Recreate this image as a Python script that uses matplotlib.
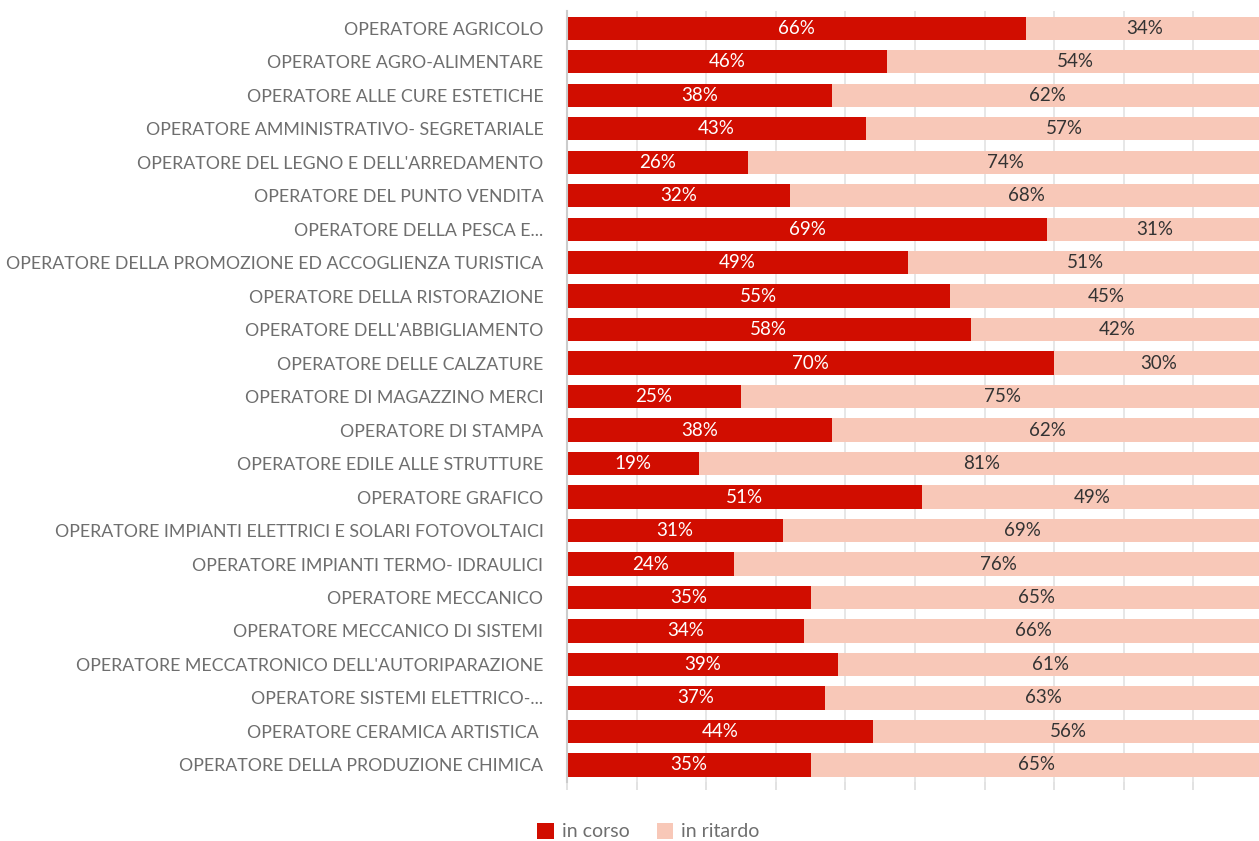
import matplotlib.pyplot as plt
import numpy as np

plt.rcParams['font.family'] = ['Lato', 'DejaVu Sans']

categorie = [
    "OPERATORE AGRICOLO",
    "OPERATORE AGRO-ALIMENTARE",
    "OPERATORE ALLE CURE ESTETICHE",
    "OPERATORE AMMINISTRATIVO- SEGRETARIALE",
    "OPERATORE DEL LEGNO E DELL'ARREDAMENTO",
    "OPERATORE DEL PUNTO VENDITA",
    "OPERATORE DELLA PESCA E...",
    "OPERATORE DELLA PROMOZIONE ED ACCOGLIENZA TURISTICA",
    "OPERATORE DELLA RISTORAZIONE",
    "OPERATORE DELL'ABBIGLIAMENTO",
    "OPERATORE DELLE CALZATURE",
    "OPERATORE DI MAGAZZINO MERCI",
    "OPERATORE DI STAMPA",
    "OPERATORE EDILE ALLE STRUTTURE",
    "OPERATORE GRAFICO",
    "OPERATORE IMPIANTI ELETTRICI E SOLARI FOTOVOLTAICI",
    "OPERATORE IMPIANTI TERMO- IDRAULICI",
    "OPERATORE MECCANICO",
    "OPERATORE MECCANICO DI SISTEMI",
    "OPERATORE MECCATRONICO DELL'AUTORIPARAZIONE",
    "OPERATORE SISTEMI ELETTRICO-...",
    "OPERATORE CERAMICA ARTISTICA ",
    "OPERATORE DELLA PRODUZIONE CHIMICA",
]
in_corso = [66, 46, 38, 43, 26, 32, 69, 49, 55, 58, 70, 25, 38, 19, 51, 31, 24, 35, 34, 39, 37, 44, 35]
in_ritardo = [34, 54, 62, 57, 74, 68, 31, 51, 45, 42, 30, 75, 62, 81, 49, 69, 76, 65, 66, 61, 63, 56, 65]

rosso = '#d10d00'
rosa = '#f8c8b8'

fig = plt.figure(figsize=(12.59, 8.41), dpi=100)
ax = fig.add_axes([0.4504, 0.0705, 0.5528, 0.916])

y = np.arange(len(categorie))
h = 0.69
ax.barh(y, in_corso, height=h, color=rosso, label='in corso', zorder=3)
ax.barh(y, in_ritardo, left=in_corso, height=h, color=rosa, label='in ritardo', zorder=3)

for i in range(len(categorie)):
    ax.text(in_corso[i] / 2, i, f'{in_corso[i]}%', ha='center', va='center',
            color='white', fontsize=13.5, zorder=4)
    ax.text(in_corso[i] + in_ritardo[i] / 2, i, f'{in_ritardo[i]}%', ha='center', va='center',
            color='#333333', fontsize=13.5, zorder=4)

ax.set_xlim(0, 100)
ax.set_ylim(len(categorie) - 0.5, -0.5)
ax.set_yticks(y)
ax.set_yticklabels(categorie, fontsize=12.8, color='#6e6e6e')
ax.tick_params(axis='y', length=0, pad=17)
ax.set_xticks(np.arange(0, 101, 10))
ax.set_xticklabels([])
ax.tick_params(axis='x', length=6, color='#dddddd', width=1.2)
ax.grid(axis='x', color='#e3e3e3', linewidth=1.2, zorder=0)
for s in ['top', 'right', 'bottom']:
    ax.spines[s].set_visible(False)
ax.spines['left'].set_color('#cccccc')
ax.spines['left'].set_linewidth(1.5)
ax.spines['left'].set_zorder(5)

fig.legend(loc='center', bbox_to_anchor=(0.515, 0.011), ncol=2, frameon=False,
           handlelength=0.85, handleheight=0.85, handletextpad=0.4,
           columnspacing=1.4, labelcolor='#6e6e6e', prop={'size': 14})

fig.savefig('out.png', dpi=100)
